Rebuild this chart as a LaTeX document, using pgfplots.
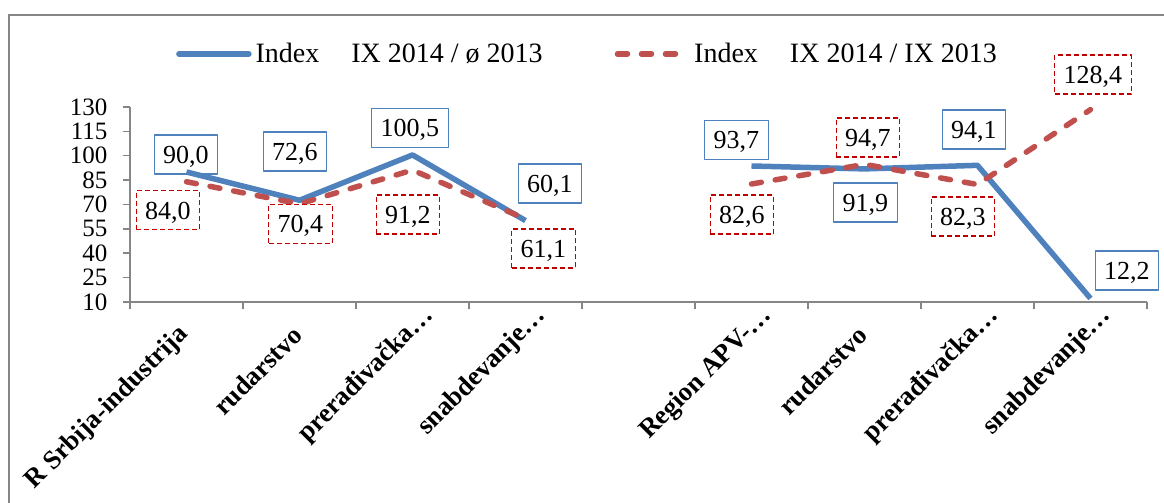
\documentclass[border=0pt]{standalone}
\usepackage{pgfplots}
\pgfplotsset{compat=1.18}
\usepackage{pgfplotstable}
\usepackage{fontspec}
\setmainfont{Liberation Serif}
\definecolor{serA}{RGB}{79,129,189}
\definecolor{serB}{RGB}{192,80,77}
\definecolor{boxB}{RGB}{192,0,0}
\definecolor{axgray}{RGB}{134,134,134}

\pgfplotstableread{
x y dx dy
0 90.0 -0.25 8.75
1 72.6 -2.25 24.4
2 100.5 -1.25 13.45
3 60.1 12.25 18.5
4 nan 0 0
5 93.7 -7.5 13
6 91.9 0.5 -16.75
7 94.1 -1.75 18
8 12.2 18.25 14
}\tblA
\pgfplotstableread{
x y dx dy
0 84.0 -9.25 -14.25
1 70.4 0.5 -10
2 91.2 -2.25 -22.25
3 61.1 9 -14.75
4 nan 0 0
5 82.6 -4.75 -15.25
6 94.7 1.75 13.45
7 82.3 -7.25 -16
8 128.4 1.25 17.5
}\tblB

\begin{document}
\begin{tikzpicture}
\path[use as bounding box] (0,0) rectangle (582pt,251.5pt);
\begin{scope}
\clip (0,0) rectangle (582pt,251.5pt);
\draw[axgray, line width=0.75pt] (4.5pt,-10pt) rectangle (600pt,244pt);
\end{scope}
\begin{axis}[
  at={(65pt,100.5pt)}, anchor=south west,
  scale only axis, width=508.5pt, height=97.5pt,
  xmin=-0.5, xmax=8.5, ymin=10, ymax=130,
  ytick={10,25,...,130},
  xtick={-0.5,0.5,...,8.5},
  xticklabels={},
  extra x ticks={0,1,2,3,4,5,6,7,8},
  extra x tick labels={R Srbija-industrija,rudarstvo,prerađivačka\rlap{…},snabdevanje\rlap{…},,Region APV-\rlap{…},rudarstvo,prerađivačka\rlap{…},snabdevanje\rlap{…}},
  extra x tick style={major tick length=0pt, tick label style={rotate=45, anchor=east, font=\fontsize{13.3}{15}\selectfont\bfseries, xshift=-7.4pt, yshift=-9.5pt}},
  axis x line*=bottom, axis y line*=left,
  axis line style={axgray, line width=0.75pt},
  tick align=outside,
  tick style={axgray, line width=0.75pt},
  major tick length=3.75pt,
  yticklabel style={font=\fontsize{12.5}{13}\selectfont, xshift=-4pt},
  /pgf/number format/assume math mode=true,
  unbounded coords=jump,
  clip=false,
  legend style={draw=none, fill=none, legend columns=2, at={(0.045,1.272)}, anchor=west,
    font=\fontsize{14}{16}\selectfont, inner sep=0pt,
    /tikz/every even column/.append style={column sep=34pt}},
  legend image code/.code={\draw[#1, line cap=round] (0pt,0pt) -- (35pt,0pt);},
]
\addplot[serA, line width=2.75pt, line join=round, mark=none,
  nodes near coords={\pgfmathprintnumber[fixed,fixed zerofill,precision=1,use comma]{\pgfplotspointmeta}},
  visualization depends on={\thisrow{dx} \as \ldx},
  visualization depends on={\thisrow{dy} \as \ldy},
  every node near coord/.style={anchor=center, xshift=\ldx pt, yshift=\ldy pt, draw=serA, line width=0.7pt, solid, text=black,
    font=\fontsize{13}{14}\selectfont, inner xsep=4.5pt, inner ysep=0pt, text height=8.8pt, text depth=0pt, minimum height=19.5pt}
] table[x=x,y=y] {\tblA};
\addlegendentry{Index\hspace{16pt}IX 2014 / ø 2013}
\addplot[serB, line width=2.75pt, line join=round, mark=none, dash pattern=on 5pt off 7pt, line cap=round,
  nodes near coords={\pgfmathprintnumber[fixed,fixed zerofill,precision=1,use comma]{\pgfplotspointmeta}},
  visualization depends on={\thisrow{dx} \as \ldx},
  visualization depends on={\thisrow{dy} \as \ldy},
  every node near coord/.style={anchor=center, xshift=\ldx pt, yshift=\ldy pt, draw=boxB, line width=0.7pt, dash pattern=on 2.5pt off 1.5pt, line cap=butt, text=black,
    font=\fontsize{13}{14}\selectfont, inner xsep=4.5pt, inner ysep=0pt, text height=8.8pt, text depth=0pt, minimum height=19.5pt}
] table[x=x,y=y] {\tblB};
\addlegendentry{Index\hspace{16pt}IX 2014 / IX 2013}
\end{axis}
\end{tikzpicture}
\end{document}
